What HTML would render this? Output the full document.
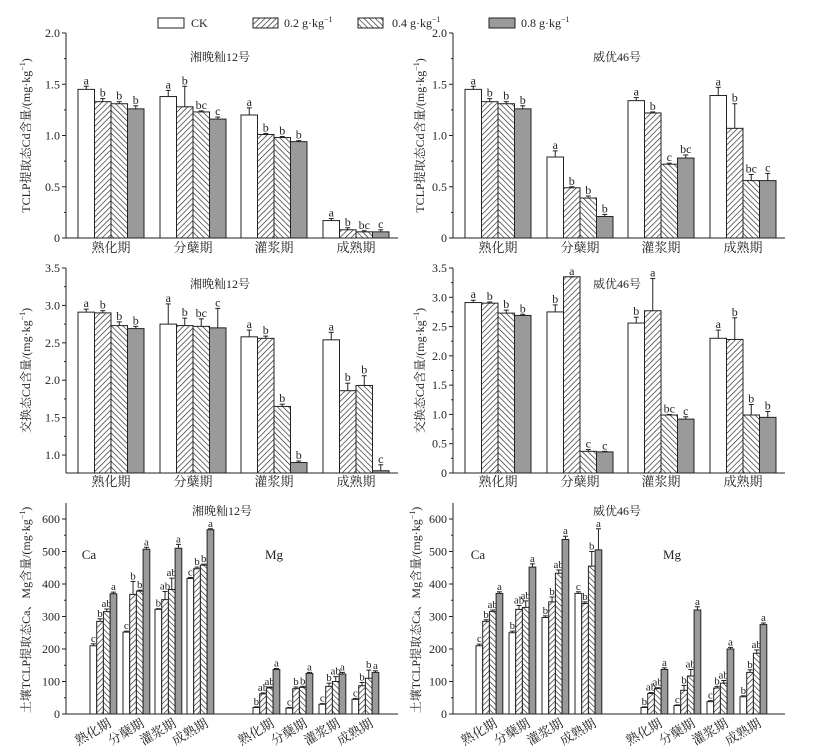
<!DOCTYPE html>
<html><head><meta charset="utf-8"><style>
html,body{margin:0;padding:0;background:#fff}
svg text{font-family:"Liberation Serif","Noto Serif CJK SC","Noto Sans CJK SC",serif;fill:#222}
</style></head><body>
<svg id="chart" xmlns="http://www.w3.org/2000/svg" width="833" height="750" viewBox="0 0 833 750">
<defs>
<pattern id="h02" patternUnits="userSpaceOnUse" width="4" height="4" patternTransform="rotate(45)"><rect width="4" height="4" fill="#fff"/><line x1="0" y1="0" x2="0" y2="4" stroke="#222" stroke-width="1.3"/></pattern>
<pattern id="h04" patternUnits="userSpaceOnUse" width="4" height="4" patternTransform="rotate(-45)"><rect width="4" height="4" fill="#fff"/><line x1="0" y1="0" x2="0" y2="4" stroke="#222" stroke-width="1.3"/></pattern>
</defs>
<g>
<rect x="158" y="18" width="26" height="10" fill="#fff" stroke="#222"/>
<text x="191" y="27" font-size="12">CK</text>
<rect x="253" y="18" width="25" height="10" fill="url(#h02)" stroke="#222"/>
<text x="284" y="27" font-size="12">0.2 g·kg<tspan dy="-5" font-size="8">−1</tspan></text>
<rect x="358" y="18" width="25" height="10" fill="url(#h04)" stroke="#222"/>
<text x="392" y="27" font-size="12">0.4 g·kg<tspan dy="-5" font-size="8">−1</tspan></text>
<rect x="489" y="18" width="26" height="10" fill="#9a9a9a" stroke="#222"/>
<text x="521" y="27" font-size="12">0.8 g·kg<tspan dy="-5" font-size="8">−1</tspan></text>
</g>
</svg>
<script>
const stages = ["熟化期","分蘖期","灌浆期","成熟期"];
const fills = ["#fff","url(#h02)","url(#h04)","#9a9a9a"];
// Panel A: TCLP Cd, 湘晚籼12号
const aVals = [[1.45,1.33,1.31,1.26],[1.38,1.28,1.23,1.16],[1.20,1.01,0.98,0.94],[0.17,0.08,0.06,0.06]];
const aErr = [[0.03,0.03,0.02,0.03],[0.06,0.20,0.01,0.02],[0.07,0.01,0.01,0.01],[0.02,0.02,0.01,0.02]];
const aLet = [["a","b","b","b"],["a","b","bc","c"],["a","b","b","b"],["a","b","bc","c"]];
// Panel B: TCLP Cd, 威优46号
const bVals = [[1.45,1.33,1.31,1.26],[0.79,0.49,0.39,0.21],[1.34,1.22,0.72,0.78],[1.39,1.07,0.56,0.56]];
const bErr = [[0.03,0.03,0.02,0.03],[0.06,0.01,0.02,0.02],[0.03,0.01,0.01,0.03],[0.08,0.24,0.06,0.07]];
const bLet = [["a","b","b","b"],["a","b","b","b"],["a","b","c","bc"],["a","b","bc","c"]];
// Panel C: exchangeable Cd, 湘晚籼12号
const cVals = [[2.91,2.90,2.73,2.69],[2.75,2.73,2.72,2.70],[2.58,2.56,1.65,0.90],[2.54,1.86,1.93,0.79]];
const cErr = [[0.04,0.03,0.05,0.03],[0.27,0.10,0.10,0.26],[0.09,0.03,0.03,0.02],[0.10,0.10,0.13,0.08]];
const cLet = [["a","b","b","b"],["a","b","bc","c"],["a","b","b","b"],["a","b","b","c"]];
// Panel D: exchangeable Cd, 威优46号
const dVals = [[2.91,2.90,2.73,2.69],[2.75,3.35,0.37,0.36],[2.56,2.77,0.99,0.92],[2.30,2.28,0.99,0.95]];
const dErr = [[0.04,0.02,0.05,0.02],[0.12,0.00,0.03,0.01],[0.10,0.55,0.01,0.04],[0.14,0.37,0.18,0.10]];
const dLet = [["a","b","b","b"],["b","a","c","c"],["b","a","bc","c"],["a","b","b","b"]];
// Panel E: Ca/Mg, 湘晚籼12号
const eCa = [[210,285,315,370],[252,368,378,507],[322,352,383,510],[417,447,458,567]];
const eCaErr = [[6,8,8,5],[3,40,3,6],[2,25,35,12],[3,5,3,3]];
const eCaLet = [["c","b","ab","a"],["c","b","b","a"],["b","ab","ab","a"],["c","b","b","a"]];
const eMg = [[20,62,80,137],[18,78,82,125],[30,85,100,123],[45,87,110,128]];
const eMgErr = [[2,3,3,3],[2,5,3,3],[2,10,15,5],[3,10,25,5]];
const eMgLet = [["b","ab","ab","a"],["c","b","b","a"],["c","b","ab","a"],["c","b","b","a"]];
// Panel F: Ca/Mg, 威优46号
const fCa = [[210,285,315,371],[250,322,328,452],[297,345,433,537],[371,340,455,505]];
const fCaErr = [[5,5,5,5],[5,12,20,10],[5,15,10,10],[5,5,45,65]];
const fCaLet = [["c","b","ab","a"],["b","ab","ab","a"],["b","b","ab","a"],["c","b","b","a"]];
const fMg = [[20,63,78,137],[26,73,117,320],[38,80,95,200],[53,128,187,275]];
const fMgErr = [[2,3,3,5],[2,15,20,10],[3,5,8,5],[3,8,10,5]];
const fMgLet = [["b","ab","ab","a"],["c","b","ab","a"],["c","b","ab","a"],["b","b","ab","a"]];
const cdTicks = ["0","0.5","1.0","1.5","2.0"];
const exTicksC = ["1.0","1.5","2.0","2.5","3.0","3.5"];
const exTicksD = ["0","0.5","1.0","1.5","2.0","2.5","3.0","3.5"];
const cmTicks = ["0","100","200","300","400","500","600"];

const svg = document.getElementById('chart');
const NS = "http://www.w3.org/2000/svg";
function el(tag, attrs, parent){ const e=document.createElementNS(NS,tag); for(const k in attrs) e.setAttribute(k,attrs[k]); (parent||svg).appendChild(e); return e; }

function axes(g, p){
  const y = v => p.yBase - (v - p.vmin)/(p.vmax - p.vmin)*(p.yBase - p.yTop0);
  const ax = el('line',{x1:p.x0,y1:p.yBase,x2:p.x0,y2:p.yTop,stroke:'#222','stroke-width':1},g);
  
  
  const bx = el('line',{x1:p.x0,y1:p.yBase,x2:p.x1,y2:p.yBase,stroke:'#222','stroke-width':1},g);
  
  
  p.ticks.forEach(t=>{
    const v=parseFloat(t), yy=y(v);
    el('line',{x1:p.x0-4,y1:yy,x2:p.x0,y2:yy,stroke:'#222'},g);
    const tx = el('text',{x:p.x0-6,y:yy+4,'font-size':12,'text-anchor':'end'},g);
    tx.textContent=t;
    
    
    const mv=v+p.minor;
    if(mv<p.vmax+1e-9){ const my=y(mv); el('line',{x1:p.x0-2,y1:my,x2:p.x0,y2:my,stroke:'#222'},g); }
  });
  return y;
}

function bars(g, y, vals, errs, lets, starts, bw, baseV, fs){
  vals.forEach((grp,i)=>{
    grp.forEach((v,j)=>{
      const x = starts[i] + j*bw, yy=y(v), yb=y(baseV);
      const r = el('rect',{x:x,y:Math.min(yy,yb),width:bw,height:Math.abs(yb-yy),fill:fills[j],stroke:'#222','stroke-width':1},g);
      
      
      const ye = y(v+errs[i][j]), cx = x+bw/2;
      el('line',{x1:cx,y1:yy,x2:cx,y2:ye,stroke:'#222'},g);
      el('line',{x1:cx-2.5,y1:ye,x2:cx+2.5,y2:ye,stroke:'#222'},g);
      const t = el('text',{x:cx,y:ye-2,'font-size':fs,'text-anchor':'middle'},g);
      t.textContent = lets[i][j];
      
      
    });
  });
}

function text(g, x, y, s, size, extra){
  const t = el('text', Object.assign({x:x,y:y,'font-size':size,'text-anchor':'middle'}, extra||{}), g);
  t.textContent = s; return t;
}

function ytitle(g, x, y, main){
  const t = el('text',{x:0,y:0,'font-size':12,'text-anchor':'middle',transform:`translate(${x},${y}) rotate(-90)`},g);
  t.textContent = main;
  const sp = el('tspan',{dy:-5,'font-size':8},t); sp.textContent='−1';
  const sp2 = el('tspan',{dy:5},t); sp2.textContent=')';
  
  
}

function cdPanel(name, x0, x1, yTop, yBase, vmin, vmax, ticks, minor, vals, errs, lets, starts, title, tx, ty, yt, ytx, labY){
  const g = el('g',{});
  
  
  const y = axes(g,{x0,x1,yTop,yTop0:yTop,yBase,vmin,vmax,ticks,minor});
  bars(g,y,vals,errs,lets,starts,16.5,vmin,12);
  starts.forEach((s,i)=>{ const t=text(g,s+33,labY,stages[i],13);   });
  const tt=text(g,tx,ty,title,12);  
  ytitle(g,ytx,(yTop+yBase)/2,yt);
}

cdPanel('panel-tclp-cd-xwx12',66,398,33,238,0,2.0,cdTicks,0.25,aVals,aErr,aLet,[78,160,241,323],'湘晚籼12号',220,61,'TCLP提取态Cd含量/(mg·kg',30,252);
cdPanel('panel-tclp-cd-wy46',453,785,33,238,0,2.0,cdTicks,0.25,bVals,bErr,bLet,[465,547,628,710],'威优46号',617,61,'TCLP提取态Cd含量/(mg·kg',424,252);
cdPanel('panel-exch-cd-xwx12',66,398,268,473,0.76,3.5,exTicksC,0.25,cVals,cErr,cLet,[78,160,241,323],'湘晚籼12号',220,288,'交换态Cd含量/(mg·kg',30,486);
cdPanel('panel-exch-cd-wy46',453,785,268,473,0,3.5,exTicksD,0.25,dVals,dErr,dLet,[465,547,628,710],'威优46号',617,288,'交换态Cd含量/(mg·kg',424,486);

function cmPanel(name, x0, x1, caStarts, mgStarts, ca, caE, caL, mg, mgE, mgL, title, tx, caX, mgX, ytx){
  const g = el('g',{});
  
  
  const yBase=714, yTop=519;
  const y = axes(g,{x0,x1,yTop:503,yTop0:yTop,yBase,vmin:0,vmax:600,ticks:cmTicks,minor:50});
  bars(g,y,ca,caE,caL,caStarts,6.7,0,11);
  bars(g,y,mg,mgE,mgL,mgStarts,6.7,0,11);
  caStarts.concat(mgStarts).forEach((s,i)=>{
    const t = el('text',{x:0,y:0,'font-size':13,'text-anchor':'end',transform:`translate(${s+22},${726}) rotate(-30)`},g);
    t.textContent = stages[i%4];
    
    
  });
  const tt=text(g,tx,515,title,12);  
  const c=text(g,caX,559,'Ca',13);  
  const m=text(g,mgX,559,'Mg',13);  
  ytitle(g,ytx,610,'土壤TCLP提取态Ca、Mg含量/(mg·kg');
}
cmPanel('panel-ca-mg-xwx12',66,398,[90,123,155,187],[253,286,319,352],eCa,eCaErr,eCaLet,eMg,eMgErr,eMgLet,'湘晚籼12号',222,89,274,30);
cmPanel('panel-ca-mg-wy46',453,785,[476,509,542,575],[641,674,707,740],fCa,fCaErr,fCaLet,fMg,fMgErr,fMgLet,'威优46号',617,478,672,420);
</script>
</body></html>
